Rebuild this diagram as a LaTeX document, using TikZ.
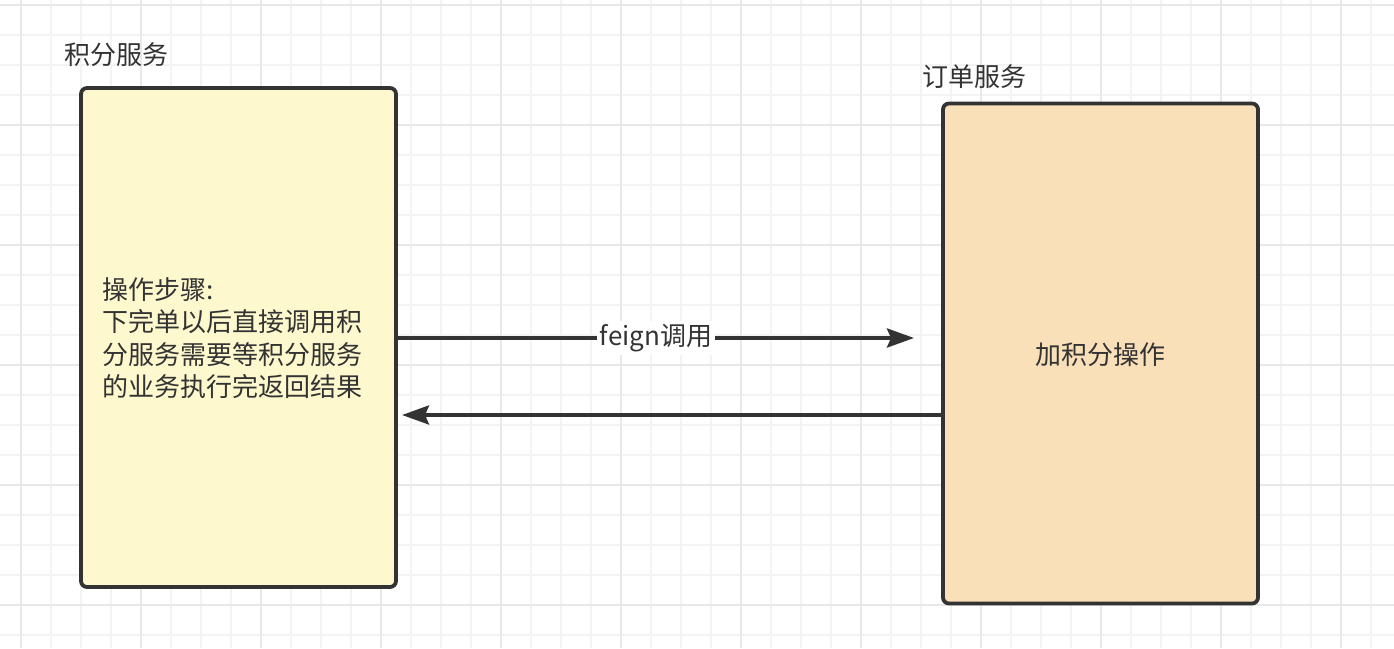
\documentclass[tikz,border=0pt]{standalone}
\usepackage{fontspec}
\setmainfont{Noto Sans CJK SC}
\usetikzlibrary{arrows.meta}
\definecolor{ink}{HTML}{333333}
\definecolor{gridminor}{HTML}{F3F3F3}
\definecolor{gridmajor}{HTML}{E8E8E8}
\definecolor{yellowfill}{HTML}{FDF8CD}
\definecolor{orangefill}{HTML}{F9E0B8}
\tikzset{
  svcbox/.style={draw=ink, line width=3.8pt, rounded corners=6pt, inner sep=0pt},
  title/.style={text=ink, font=\fontsize{26}{32}\selectfont, inner sep=0pt},
  body/.style={text=ink, font=\fontsize{26}{32.5}\selectfont, inner sep=0pt, align=left},
  conn/.style={draw=ink, line width=3.8pt, -{Stealth[length=27pt,width=19pt,inset=4pt]}},
  lbl/.style={fill=white, text=ink, font=\fontsize{26}{32}\selectfont, inner sep=3pt}
}
\begin{document}
\begin{tikzpicture}[x=1pt,y=-1pt]
\useasboundingbox (0,0) rectangle (1394,648);
\fill[white] (0,0) rectangle (1394,648);
% minor grid
\foreach \x in {21,51,...,1394} \draw[gridminor, line width=1.2pt] (\x,0) -- (\x,648);
\foreach \y in {5,35,...,648} \draw[gridminor, line width=1.2pt] (0,\y) -- (1394,\y);
% major grid
\foreach \x in {21,141,...,1394} \draw[gridmajor, line width=1.4pt] (\x,0) -- (\x,648);
\foreach \y in {5,125,...,648} \draw[gridmajor, line width=1.4pt] (0,\y) -- (1394,\y);

% boxes
\node[svcbox, fill=yellowfill, minimum width=315pt, minimum height=499pt] (box1) at (238.5,337.5) {};
\node[svcbox, fill=orangefill, minimum width=315pt, minimum height=500pt] (box2) at (1100.5,353.5) {};

% titles
\node[title, anchor=west] (t1) at (64,55) {积分服务};
\node[title, anchor=west] (t2) at (922,77) {订单服务};

% box texts
\node[body, anchor=west] (txt1) at (102,338) {操作步骤:\\下完单以后直接调用积\\分服务需要等积分服务\\的业务执行完返回结果};
\node[body] (txt2) at (1100.5,355) {加积分操作};

% connectors
\coordinate (e1) at (914,338);
\coordinate (e2) at (402,415);
\draw[conn] (box1.east |- e1) -- node[lbl, pos=0.5] (l1) {feign调用} (e1);
\draw[conn] (box2.west |- e2) -- (e2);
\end{tikzpicture}
\end{document}
